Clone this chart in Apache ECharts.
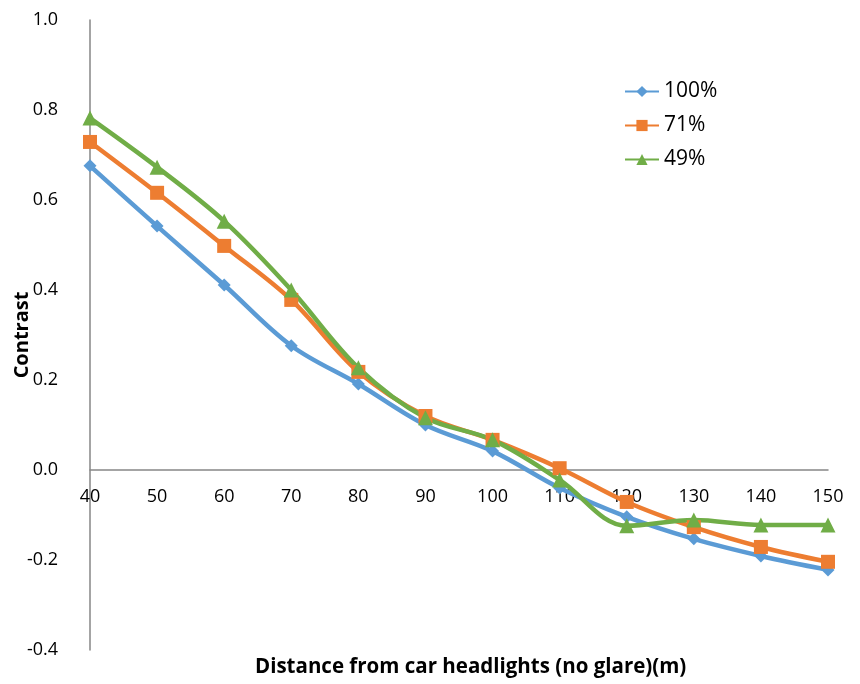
<!DOCTYPE html>
<html><head><meta charset="utf-8">
<script src="https://cdn.jsdelivr.net/npm/echarts@6/dist/echarts.min.js"></script>
<style>html,body{margin:0;padding:0;background:#fff}#c{width:860px;height:684px}</style>
</head><body><div id="c"></div>
<script>
const categories = ['40','50','60','70','80','90','100','110','120','130','140','150'];
const s100 = [0.676,0.542,0.411,0.276,0.191,0.100,0.042,-0.040,-0.104,-0.153,-0.191,-0.222];
const s71  = [0.729,0.616,0.498,0.378,0.218,0.120,0.067,0.004,-0.071,-0.127,-0.171,-0.204];
const s49  = [0.782,0.673,0.553,0.400,0.227,0.116,0.067,-0.022,-0.124,-0.111,-0.122,-0.122];
const yTicks = [-0.4,-0.2,0.0,0.2,0.4,0.6,0.8,1.0];
const font = '"Open Sans", "Liberation Sans", sans-serif';
const chart = echarts.init(document.getElementById('c'));
function ser(name, data, color, symbol, size){
  return {name, type:'line', data, smooth:0.35, symbol, symbolSize:size,
    lineStyle:{width:4.5,color}, itemStyle:{color}};
}
chart.setOption({
  animation:false,
  textStyle:{fontFamily:font},
  title:{text:'Distance from car headlights (no glare)(m)', left:250, bottom:1,
    textStyle:{fontSize:20.5,fontWeight:'bold',color:'#000',fontFamily:font}},
  legend:{orient:'vertical', left:619, top:76, itemGap:13, itemWidth:34, itemHeight:14,
    textStyle:{fontSize:21,color:'#000',fontFamily:font},
    data:['100%','71%','49%']},
  grid:{left:90, right:32, top:20, bottom:34, outerBoundsMode:'none', containLabel:false},
  xAxis:{type:'category', data:categories, boundaryGap:false, position:'bottom', offset:-180,
    axisLine:{onZero:false, lineStyle:{color:'#868686',width:1.5}},
    axisTick:{show:false},
    axisLabel:{fontSize:18,color:'#000',margin:18,fontFamily:font},
    splitLine:{show:false}},
  yAxis:{type:'value', min:-0.4, max:1.0, interval:0.2,
    name:'Contrast', nameLocation:'middle', nameGap:58, nameRotate:90, nameMoveOverlap:false,
    nameTextStyle:{fontSize:20,fontWeight:'bold',color:'#000',fontFamily:font},
    axisLine:{show:true, lineStyle:{color:'#868686',width:1.5}},
    axisTick:{show:false},
    axisLabel:{fontSize:18,color:'#000',margin:32,fontFamily:font,
      formatter:v=>v.toFixed(1)},
    splitLine:{show:false}},
  series:[
    ser('100%', s100, '#5B9BD5', 'diamond', 13),
    ser('71%', s71, '#ED7D31', 'rect', 14),
    ser('49%', s49, '#70AD47', 'triangle', 15)
  ]
});
</script></body></html>
